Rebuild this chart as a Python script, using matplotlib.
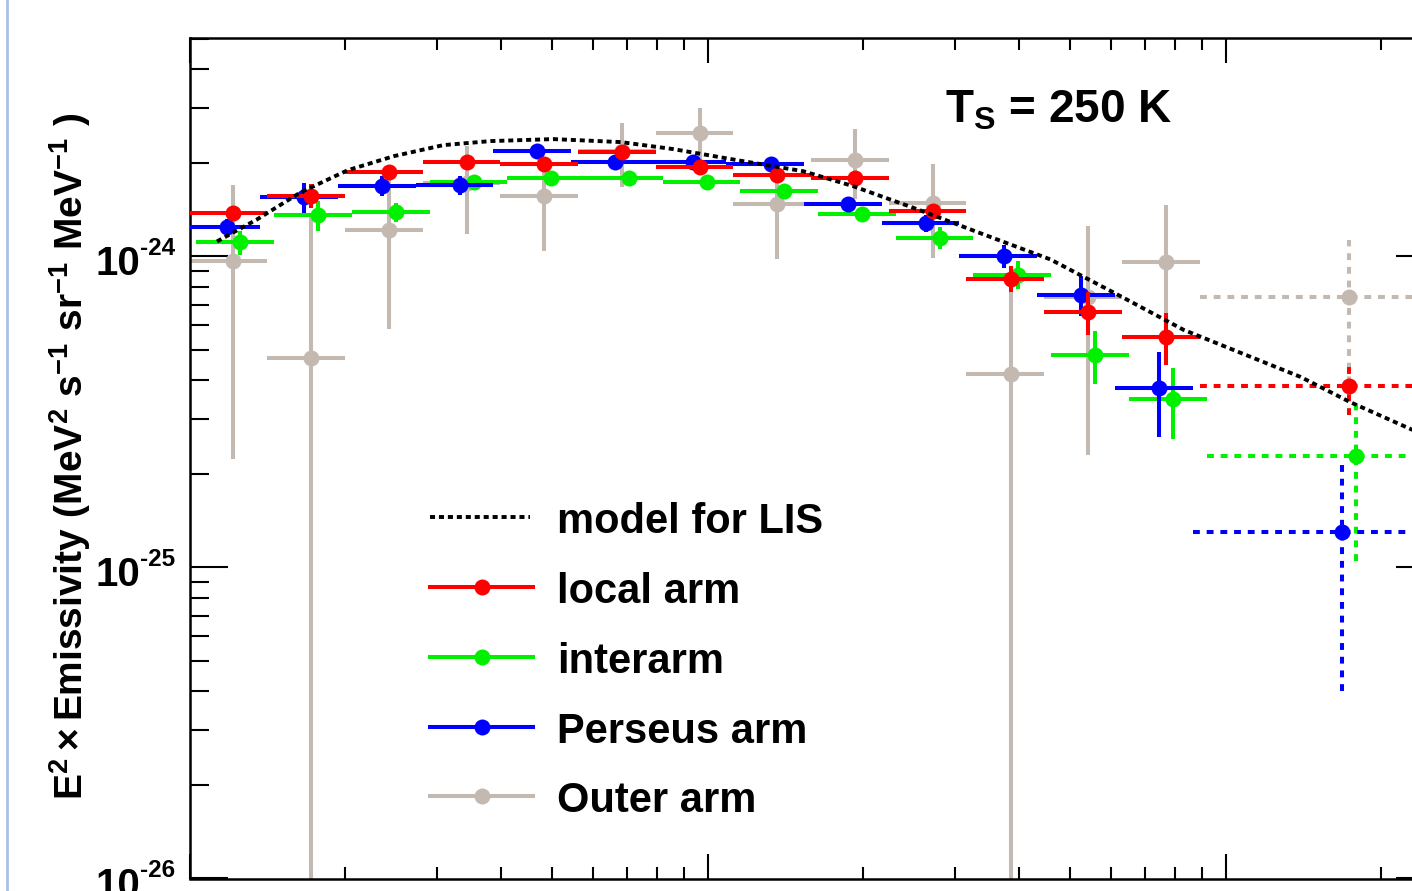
import numpy as np
import matplotlib
matplotlib.use('Agg')
import matplotlib.pyplot as plt
from matplotlib.lines import Line2D
from matplotlib.ticker import LogLocator, FixedLocator, NullFormatter

plt.rcParams['font.family'] = ['Liberation Sans', 'DejaVu Sans']
plt.rcParams['font.weight'] = 'bold'
plt.rcParams['mathtext.fontset'] = 'custom'
plt.rcParams['mathtext.rm'] = 'Liberation Sans:bold'
plt.rcParams['mathtext.bf'] = 'Liberation Sans:bold'
plt.rcParams['mathtext.it'] = 'Liberation Sans:bold'
plt.rcParams['mathtext.sf'] = 'Liberation Sans:bold'

# ---------------- data ----------------
# energy bins (MeV); last bin is the dotted one
bin_lo = [100, 141.3, 199.5, 281.8, 398.1, 562.3, 794.3, 1122, 1585, 2239, 3162, 4467, 6310, 8913]
bin_hi = [141.3, 199.5, 281.8, 398.1, 562.3, 794.3, 1122, 1585, 2239, 3162, 4467, 6310, 8913, 31620]
energy = [121.6, 171.8, 242.7, 342.8, 484.2, 683.9, 966.1, 1365, 1928, 2723, 3846, 5433, 7674, 17280]

# E^2 x emissivity in units of 1e-24 MeV^2 s^-1 sr^-1 MeV^-1
local_val = [1.38, 1.57, 1.87, 2.02, 1.98, 2.16, 1.94, 1.83, 1.79, 1.40, 0.849, 0.665, 0.552, 0.384]
local_err = [0.05, 0.14, 0.06, 0.05, 0.05, 0.05, 0.05, 0.06, 0.06, 0.07, 0.08, 0.105, 0.105, 0.075]
inter_val = [1.11, 1.36, 1.39, 1.73, 1.79, 1.79, 1.73, 1.62, 1.37, 1.15, 0.875, 0.483, 0.348, 0.228]
inter_err = [0.10, 0.15, 0.10, 0.06, 0.05, 0.05, 0.05, 0.06, 0.06, 0.09, 0.09, 0.095, 0.09, 0.123]
perseus_val = [1.24, 1.55, 1.69, 1.70, 2.18, 2.02, 2.02, 1.99, 1.48, 1.28, 1.00, 0.754, 0.378, 0.130]
perseus_err = [0.08, 0.17, 0.12, 0.12, 0.06, 0.05, 0.05, 0.07, 0.06, 0.08, 0.085, 0.11, 0.115, 0.09]
outer_val = [0.964, 0.472, 1.22, 1.72, 1.56, 2.18, 2.49, 1.47, 2.05, 1.49, 0.42, 0.74, 0.96, 0.743]
outer_err = [0.74, 0.90, 0.634, 0.54, 0.515, 0.51, 0.51, 0.49, 0.52, 0.50, 0.50, 0.51, 0.50, 0.39]

model_E = [113, 135, 164, 202, 248, 309, 381, 504, 680, 860, 1142, 1531, 1913, 2543,
           3410, 4596, 6190, 8300, 11170, 13960, 17420, 22960]
model_val = [1.118, 1.316, 1.609, 1.894, 2.102, 2.281, 2.350, 2.385, 2.333, 2.214, 2.040,
             1.880, 1.682, 1.418, 1.178, 0.978, 0.754, 0.581, 0.476, 0.410, 0.340, 0.277]

legend_labels = ['model for LIS', 'local arm', 'interarm', 'Perseus arm', 'Outer arm']
y_decades = [-26, -25, -24]
UNIT = 1e-24

# ---------------- style ----------------
C_RED, C_GREEN, C_BLUE, C_GREY = '#ff0000', '#00f000', '#0000ff', '#c3b9b0'
MS = 11.5
LW = 2.9
DOT = (0, (1.7, 1.7))
MODEL_LS = (0, (1.3, 1.0))
MODEL_LW = 2.8

W, H = 1412, 891
fig = plt.figure(figsize=(W / 100, H / 100), dpi=100)
def fx(px): return px / W
def fy(py): return 1 - py / H

left_px, right_px, top_px, bot_px = 189.5, 1434, 38, 878.5
XDEC, YDEC = 518.0, 311.0
ax = fig.add_axes([fx(left_px), fy(bot_px), (right_px - left_px) / W, (bot_px - top_px) / H])
ax.set_xscale('log')
ax.set_yscale('log')
ax.set_xlim(100, 10 ** (2 + (right_px - left_px) / XDEC))
ax.set_ylim(1e-26, 10 ** (-26 + (bot_px - top_px) / YDEC))

def draw(vals, errs, color, shift, z):
    E = np.asarray(energy) * shift
    lo = np.asarray(bin_lo) * shift
    hi = np.asarray(bin_hi) * shift
    V = np.asarray(vals) * UNIT
    Er = np.asarray(errs) * UNIT
    elo = np.minimum(Er, V * 0.9999999)
    n = 13
    ax.errorbar(E[:n], V[:n], yerr=[elo[:n], Er[:n]], xerr=[E[:n] - lo[:n], hi[:n] - E[:n]],
                fmt='o', color=color, ms=MS, elinewidth=LW, capsize=0, zorder=z,
                markeredgewidth=0)
    eb = ax.errorbar(E[n:], V[n:], yerr=[elo[n:], Er[n:]], xerr=[E[n:] - lo[n:], hi[n:] - E[n:]],
                     fmt='o', color=color, ms=MS, elinewidth=LW, capsize=0, zorder=z,
                     markeredgewidth=0)
    for lc in eb[2]:
        lc.set_linestyle(DOT)

draw(outer_val, outer_err, C_GREY, 1.0, 2)
draw(inter_val, inter_err, C_GREEN, 1.0316, 3)
draw(perseus_val, perseus_err, C_BLUE, 0.9694, 4)
draw(local_val, local_err, C_RED, 1.0, 5)

ax.plot(model_E, np.asarray(model_val) * UNIT, color='black', lw=MODEL_LW,
        linestyle=MODEL_LS, zorder=6)

# ---------------- axes style ----------------
for s in ax.spines.values():
    s.set_linewidth(1.8)
ax.tick_params(which='both', direction='in', top=True, right=True, width=1.5, color='black')
ax.tick_params(axis='x', which='major', length=18)
ax.tick_params(axis='x', which='minor', length=8.6)
ax.tick_params(axis='y', which='major', length=27.4)
ax.tick_params(axis='y', which='minor', length=13.7)
ax.tick_params(axis='both', which='both', labelbottom=False, labelleft=False)
ax.xaxis.set_major_locator(LogLocator(10, numticks=10))
ax.xaxis.set_minor_locator(LogLocator(10, subs=np.arange(2, 10), numticks=30))
ax.yaxis.set_major_locator(FixedLocator([10.0 ** d for d in y_decades]))
ax.yaxis.set_minor_locator(LogLocator(10, subs=np.arange(2, 10), numticks=30))
ax.yaxis.set_minor_formatter(NullFormatter())

# ROOT-like decade labels: big "10" with a small exponent
for d in y_decades:
    ax.annotate('10', xy=(0, 10.0 ** d), xycoords=('axes fraction', 'data'),
                xytext=(-35.6, -13), textcoords='offset points', ha='right', va='baseline',
                fontsize=29, fontweight='bold', annotation_clip=False)
    ax.annotate('-%d' % abs(d), xy=(0, 10.0 ** d), xycoords=('axes fraction', 'data'),
                xytext=(-35.6, 1.4), textcoords='offset points', ha='left', va='baseline',
                fontsize=17.5, fontweight='bold', annotation_clip=False)

fig.text(fx(70), fy(456),
         r'$\mathbf{E^{2}}\times\mathbf{Emissivity\ (MeV^{2}\ s^{-1}\ sr^{-1}\ MeV^{-1}\ )}$',
         rotation=90, ha='center', va='center', fontsize=28)

fig.text(fx(945), fy(122), r'T$_{\mathbf{S}}$ = 250 K', ha='left', va='baseline',
         fontsize=33, fontweight='bold')

# ---------------- legend ----------------
leg_y = [517, 587, 657, 727, 796]
styles = [('black', None), (C_RED, 'o'), (C_GREEN, 'o'), (C_BLUE, 'o'), (C_GREY, 'o')]
for (c, m), yy, lab in zip(styles, leg_y, legend_labels):
    if m is None:
        fig.add_artist(Line2D([fx(430), fx(530)], [fy(yy), fy(yy)], color=c, lw=MODEL_LW,
                              linestyle=MODEL_LS))
    else:
        fig.add_artist(Line2D([fx(430), fx(533)], [fy(yy), fy(yy)], color=c, lw=LW))
        fig.add_artist(Line2D([fx(482)], [fy(yy)], color=c, marker='o', ms=MS, markeredgewidth=0))
    fig.text(fx(557), fy(yy + 16), lab, ha='left', va='baseline', fontsize=30, fontweight='bold')

# window border at the left
fig.add_artist(Line2D([fx(7), fx(7)], [0, 1], color='#a9c1e3', lw=2))

fig.savefig('out.png', dpi=100)
